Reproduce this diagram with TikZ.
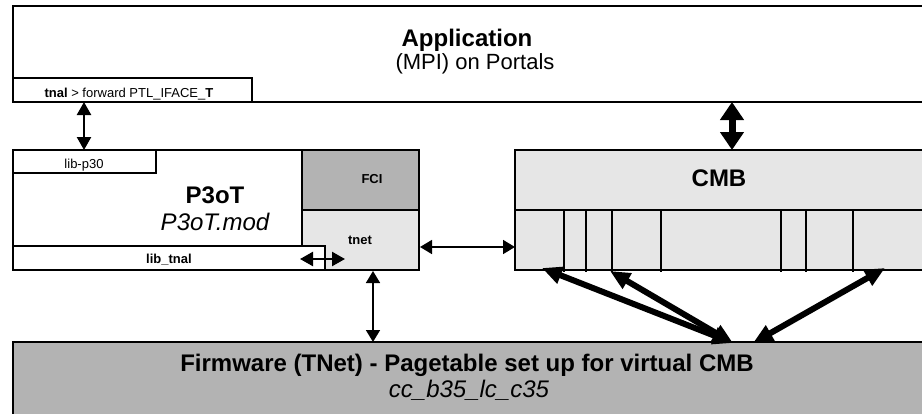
\documentclass[tikz,border=0pt]{standalone}
\usepackage{fontspec}
\setmainfont{Liberation Sans}
\usetikzlibrary{arrows.meta,calc}
\definecolor{lgray}{HTML}{E6E6E6}
\definecolor{mgray}{HTML}{B3B3B3}
\begin{document}
\begin{tikzpicture}[x=1pt,y=-1pt,
  box/.style={draw, line width=2.7pt, anchor=north west, inner sep=0pt, outer sep=0pt},
  txt/.style={inner sep=0pt, anchor=base},
  bigb/.style={txt, font=\fontsize{24}{28}\selectfont\bfseries},
  bigr/.style={txt, font=\fontsize{22}{26}\selectfont},
  bigi/.style={txt, font=\fontsize{24}{28}\selectfont\itshape},
  smallr/.style={txt, font=\fontsize{13}{15}\selectfont},
  smallb/.style={txt, font=\fontsize{13}{15}\selectfont\bfseries},
  thinarr/.style={line width=1.6pt, {Triangle[length=12pt,width=14pt]}-{Triangle[length=12pt,width=14pt]}},
  medarr/.style={line width=2.4pt, {Triangle[length=13pt,width=14pt]}-{Triangle[length=13pt,width=14pt]}},
  fatarr/.style={line width=7pt, {Triangle[length=18pt,width=23pt]}-{Triangle[length=18pt,width=23pt]}},
  heavyarr/.style={line width=6pt, {Triangle[length=20pt,width=17pt]}-{Triangle[length=20pt,width=17pt]}},
]
\clip (0,0) rectangle (922,413);
\fill[white] (0,0) rectangle (922,413);

% Application
\node[box, minimum width=930pt, minimum height=96pt] (app) at (13,6) {};
\node[box, minimum width=239pt, minimum height=24pt] (tnal) at (13,78) {};
\node[bigb] (apptitle) at (467,46) {Application};
\node[bigr] (appsub) at (475,69) {(MPI) on Portals};
\node[smallr] (tnaltxt) at (129,97) {\textbf{tnal} > forward PTL\_IFACE\_\textbf{T}};

% P3oT
\node[box, minimum width=406pt, minimum height=120pt] (p3ot) at (13,150) {};
\node[box, minimum width=143pt, minimum height=23pt] (libp30) at (13,150) {};
\node[box, fill=mgray, minimum width=117pt, minimum height=60pt] (fci) at (302,150) {};
\node[box, fill=lgray, minimum width=117pt, minimum height=60pt] (tnet) at (302,210) {};
\node[box, fill=white, minimum width=312pt, minimum height=24pt] (libtnal) at (13,246) {};
\node[smallr] (libp30txt) at (84,168) {lib-p30};
\node[bigb] (p3ottitle) at (215,203) {P3oT};
\node[bigi] (p3otmod) at (215,230) {P3oT.mod};
\node[smallb] (fcitxt) at (372,183) {FCI};
\node[smallb] (tnettxt) at (360,244) {tnet};
\node[smallb] (libtnaltxt) at (169,263) {lib\_tnal};

% CMB
\node[box, fill=lgray, minimum width=430pt, minimum height=120pt] (cmb) at (515,150) {};
\draw[line width=2.7pt] (cmb.west) -- (cmb.east);
\foreach \vx in {564,586,612,661,781,806,853}
  \draw[line width=2.7pt] ($(cmb.west)+(\vx-515,0)$) -- ($(cmb.south west)+(\vx-515,2)$);
\node[bigb] (cmbtxt) at (719,186) {CMB};

% Firmware
\node[box, fill=mgray, minimum width=930pt, minimum height=90pt] (fw) at (13,342) {};
\node[bigb] (fwtitle) at (467,371) {Firmware (TNet) - Pagetable set up for virtual CMB};
\node[bigi] (fwsub) at (469,397) {cc\_b35\_lc\_c35};

% connectors
\draw[medarr] ($(tnal.south west)+(71,0)$) -- ($(libp30.north west)+(71,0)$);
\draw[fatarr] ($(app.south west)+(719,0)$) -- ($(cmb.north west)+(217,0)$);
\draw[medarr] ($(libtnal.east)+(-25,1)$) -- ($(libtnal.east)+(20,1)$);
\draw[thinarr] ($(tnet.east)+(1,7)$) -- ($(cmb.west)+(0,37)$);
\draw[thinarr] ($(tnet.south west)+(71,1)$) -- ($(fw.north west)+(360,0)$);
\coordinate (fwa) at ($(fw.north west)+(720,1)$);
\coordinate (fwb) at ($(fw.north west)+(740,1)$);
\draw[heavyarr] ($(cmb.south west)+(27,-2)$) -- (fwa);
\draw[heavyarr] ($(cmb.south west)+(95,1)$) -- (fwa);
\draw[heavyarr] ($(cmb.south west)+(370,-2)$) -- (fwb);
\end{tikzpicture}
\end{document}
